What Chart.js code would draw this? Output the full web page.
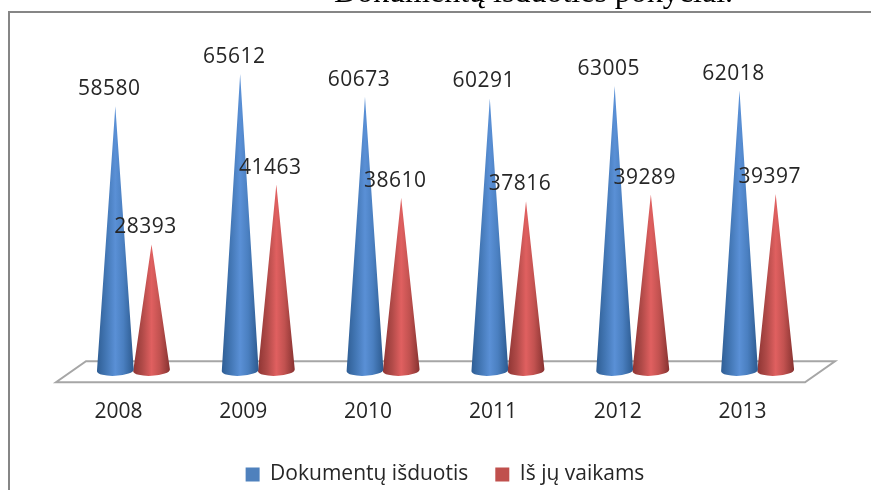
<!DOCTYPE html>
<html><head><meta charset="utf-8">
<style>
html,body{margin:0;padding:0;background:#fff;overflow:hidden}
#wrap{position:relative;width:871px;height:490px}
#frame{position:absolute;left:8px;top:11px;right:-10px;bottom:-10px;border:2px solid #868686;box-sizing:border-box}
canvas{position:absolute;left:0;top:0}
</style>
<script src="https://cdn.jsdelivr.net/npm/chart.js@4"></script>
</head><body>
<div id="wrap"><div id="frame"></div><canvas id="c" width="871" height="490"></canvas></div>
<script>
const titleText = "Dokumentų išduoties pokyčiai.";
const categories = ["2008","2009","2010","2011","2012","2013"];
const seriesNames = ["Dokumentų išduotis","Iš jų vaikams"];
const documents = [58580,65612,60673,60291,63005,62018];
const children = [28393,41463,38610,37816,39289,39397];
const legendColors = ["#4f81bd","#c0504d"];
const coneStops = [
  ["#2f5e94","#4377b5","#5a90d6","#4a7fc0","#2c5a8f"],
  ["#8e3533","#b04a48","#e06060","#c25250","#863230"]
];
const DEPTH_X = 15, DEPTH_Y = -8;

const conePlugin = {
  id:"cones",
  afterLayout(chart){
    const t = chart.titleBlock, l = chart.legend;
    const tc = (t.left+t.right)/2; t.left += 533.5-tc; t.right += 533.5-tc;
    t.top = -26; t.bottom = t.top + t.height;
    const lc = (l.left+l.right)/2; l.left += 445-lc; l.right += 445-lc;
    l.top = 466 - l.height/2; l.bottom = l.top + l.height;
  },
  beforeDatasetsDraw(chart){
    const {ctx,chartArea:a} = chart;
    ctx.save();
    ctx.beginPath();
    ctx.moveTo(a.left,a.bottom);ctx.lineTo(a.right,a.bottom);
    ctx.lineTo(a.right+30,a.bottom-21);ctx.lineTo(a.left+30,a.bottom-21);
    ctx.closePath();
    ctx.fillStyle="#fff";ctx.fill();
    ctx.strokeStyle="#a6a6a6";ctx.lineWidth=2;ctx.stroke();
    ctx.restore();
  },
  beforeDatasetDraw(chart,args){
    const {ctx} = chart;
    const meta = args.meta, stops = coneStops[args.index];
    meta.data.forEach(el=>{
      const cx = el.x+DEPTH_X, apex = el.y+DEPTH_Y, base = el.base+DEPTH_Y-4, rx = el.width/2+.3, ry = 5.5;
      const g = ctx.createLinearGradient(cx-rx,0,cx+rx,0);
      stops.forEach((s,i)=>g.addColorStop([0,.25,.5,.72,1][i],s));
      ctx.save();
      ctx.beginPath();
      ctx.moveTo(cx,apex);
      ctx.lineTo(cx+rx,base-1);
      ctx.ellipse(cx,base,rx,ry,-0.05,0,Math.PI);
      ctx.lineTo(cx,apex);
      ctx.closePath();
      ctx.fillStyle=g;ctx.fill();
      ctx.restore();
    });
    return false;
  },
  afterDatasetsDraw(chart){
    const {ctx} = chart;
    ctx.save();
    ctx.font='21px "Open Sans"';
    ctx.letterSpacing='0.5px';
    ctx.fillStyle="#262626";ctx.textAlign="center";ctx.textBaseline="middle";
    chart.data.datasets.forEach((ds,i)=>{
      chart.getDatasetMeta(i).data.forEach((el,j)=>{
        ctx.fillText(String(ds.data[j]),el.x+DEPTH_X-6,el.y+DEPTH_Y-17);
      });
    });
    ctx.restore();
  }
};

new Chart(document.getElementById("c"),{
  type:"bar",
  data:{labels:categories,datasets:[
    {label:seriesNames[0],data:documents,backgroundColor:legendColors[0]},
    {label:seriesNames[1],data:children,backgroundColor:legendColors[1]}
  ]},
  options:{
    responsive:false,animation:false,
    layout:{padding:{left:56,right:66,top:23.6,bottom:-1.5}},
    datasets:{bar:{categoryPercentage:.58,barPercentage:1}},
    scales:{
      x:{grid:{display:false},border:{display:false},
         ticks:{color:"#262626",padding:9,maxRotation:0,font:{family:"Open Sans",size:21}}},
      y:{display:false,min:0,max:70000}
    },
    plugins:{
      title:{display:true,text:titleText,color:"#000",padding:0,font:{family:"Liberation Serif",size:32,weight:"normal"}},
      legend:{position:"bottom",labels:{boxWidth:14,boxHeight:14,padding:27,color:"#262626",font:{family:"Open Sans",size:21}}},
      tooltip:{enabled:false}
    }
  },
  plugins:[conePlugin]
});
</script></body></html>
